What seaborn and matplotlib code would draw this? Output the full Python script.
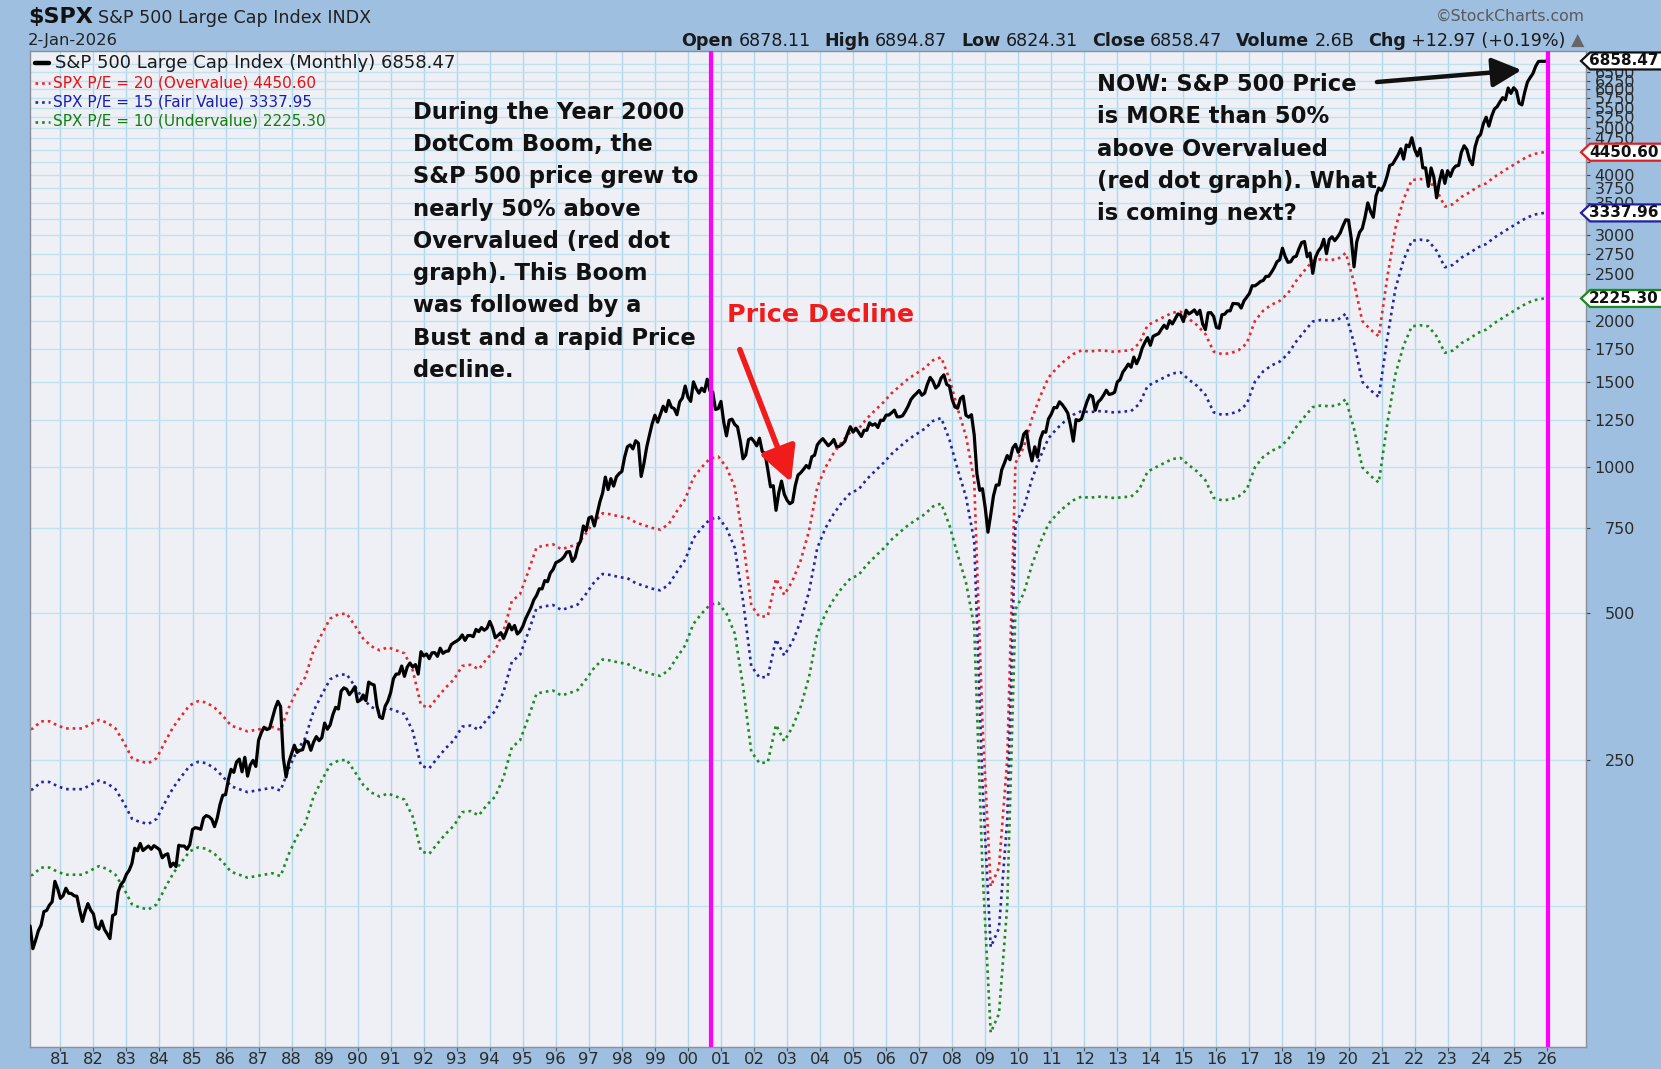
import numpy as np
import pandas as pd
import matplotlib
matplotlib.use("Agg")
import matplotlib.pyplot as plt
import seaborn as sns
from matplotlib.patches import Polygon
from matplotlib.lines import Line2D
from matplotlib.transforms import IdentityTransform
from matplotlib.ticker import FixedLocator, NullFormatter

# ---------------- data ----------------
price_1980s = [114.2, 113.7, 102.1, 106.3, 111.2, 114.2, 121.7, 122.4, 125.5, 127.5, 140.5, 135.8,
               129.6, 131.3, 136.0, 132.8, 132.6, 131.2, 130.9, 122.8, 116.2, 121.9, 126.4, 122.6,
               120.4, 113.1, 112.0, 116.4, 111.9, 109.6, 107.1, 119.5, 120.4, 133.7, 138.5, 140.6,
               145.3, 148.1, 153.0, 164.4, 162.4, 168.1, 162.6, 164.4, 166.1, 163.6, 166.4, 164.9,
               163.4, 157.1, 159.2, 160.1, 150.6, 153.2, 150.7, 166.7, 166.1, 166.1, 163.6, 167.2,
               179.6, 181.2, 180.7, 179.8, 189.6, 191.9, 190.9, 188.6, 182.1, 189.8, 202.2, 211.3,
               211.8, 226.9, 238.9, 235.5, 247.4, 250.8, 236.1, 252.9, 231.3, 244.0, 249.2, 242.2,
               274.1, 284.2, 291.7, 288.4, 290.1, 304.0, 318.7, 329.8, 321.8, 251.8, 230.3, 247.1,
               257.1, 267.8, 258.9, 261.3, 262.2, 273.5, 272.0, 261.5, 271.9, 279.0, 273.7, 277.7,
               297.5, 288.9, 294.9, 309.6, 320.5, 318.0, 346.1, 351.5, 349.2, 340.4, 346.0, 353.4]
price_1990s = [329.1, 331.9, 339.9, 330.8, 361.2, 358.0, 356.2, 322.6, 306.1, 304.0, 322.2, 330.2,
               343.9, 367.1, 375.2, 375.4, 389.8, 371.2, 387.8, 395.4, 387.9, 392.5, 375.2, 417.1,
               408.8, 412.7, 403.7, 415.0, 415.4, 408.1, 424.2, 414.0, 417.8, 418.7, 431.4, 435.7,
               438.8, 443.4, 451.7, 440.2, 450.2, 450.5, 448.1, 463.6, 458.9, 467.8, 461.8, 466.5,
               481.6, 467.1, 445.8, 450.9, 456.5, 444.3, 458.3, 475.5, 462.7, 472.4, 453.7, 459.3,
               470.4, 487.4, 500.7, 514.7, 533.4, 544.8, 562.1, 561.9, 584.4, 581.5, 605.4, 615.9,
               636.0, 640.4, 645.5, 654.2, 669.1, 670.6, 640.0, 652.0, 687.3, 705.3, 757.0, 740.7,
               786.2, 790.8, 757.1, 801.3, 848.3, 885.1, 954.3, 899.5, 947.3, 914.6, 955.4, 970.4,
               980.3, 1049.3, 1101.8, 1111.8, 1090.8, 1133.8, 1120.7, 957.3, 1017.0, 1098.7, 1163.6, 1229.2,
               1279.6, 1238.3, 1286.4, 1335.2, 1301.8, 1372.7, 1328.7, 1320.4, 1282.7, 1362.9, 1388.9, 1469.3]
price_2000s = [1394.5, 1366.4, 1498.6, 1452.4, 1420.6, 1454.6, 1430.8, 1517.7, 1436.5, 1429.4, 1315.0, 1320.3,
               1366.0, 1239.9, 1160.3, 1249.5, 1255.8, 1224.4, 1211.2, 1133.6, 1040.9, 1059.8, 1139.5, 1148.1,
               1130.2, 1106.7, 1147.4, 1076.9, 1067.1, 989.8, 911.6, 916.1, 815.3, 885.8, 936.3, 879.8,
               855.7, 841.2, 848.2, 916.9, 963.6, 974.5, 990.3, 1008.0, 996.0, 1050.7, 1058.2, 1111.9,
               1131.1, 1144.9, 1126.2, 1107.3, 1120.7, 1140.8, 1101.7, 1104.2, 1114.6, 1130.2, 1173.8, 1211.9,
               1181.3, 1203.6, 1180.6, 1156.9, 1191.5, 1191.3, 1234.2, 1220.3, 1228.8, 1207.0, 1249.5, 1248.3,
               1280.1, 1280.7, 1294.8, 1310.6, 1270.1, 1270.2, 1276.7, 1303.8, 1335.9, 1377.9, 1400.6, 1418.3,
               1438.2, 1406.8, 1420.9, 1482.4, 1530.6, 1503.4, 1455.3, 1474.0, 1526.8, 1549.4, 1481.1, 1468.4,
               1378.6, 1330.6, 1322.7, 1385.6, 1400.4, 1280.0, 1267.4, 1282.8, 1166.4, 968.8, 896.2, 903.3,
               825.9, 735.1, 797.9, 872.8, 919.1, 919.3, 987.5, 1020.6, 1057.1, 1036.2, 1095.6, 1115.1]
price_2010s = [1073.9, 1104.5, 1169.4, 1186.7, 1089.4, 1030.7, 1101.6, 1049.3, 1141.2, 1183.3, 1180.6, 1257.6,
               1286.1, 1327.2, 1325.8, 1363.6, 1345.2, 1320.6, 1292.3, 1218.9, 1131.4, 1253.3, 1247.0, 1257.6,
               1312.4, 1365.7, 1408.5, 1397.9, 1310.3, 1362.2, 1379.3, 1406.6, 1440.7, 1412.2, 1416.2, 1426.2,
               1498.1, 1514.7, 1569.2, 1597.6, 1630.7, 1606.3, 1685.7, 1633.0, 1681.6, 1756.5, 1805.8, 1848.4,
               1782.6, 1859.5, 1872.3, 1884.0, 1923.6, 1960.2, 1930.7, 2003.4, 1972.3, 2018.1, 2067.6, 2058.9,
               1995.0, 2104.5, 2067.9, 2085.5, 2107.4, 2063.1, 2103.8, 1972.2, 1920.0, 2079.4, 2080.4, 2043.9,
               1940.2, 1932.2, 2059.7, 2065.3, 2097.0, 2098.9, 2173.6, 2171.0, 2168.3, 2126.2, 2198.8, 2238.8,
               2278.9, 2363.6, 2362.7, 2384.2, 2411.8, 2423.4, 2470.3, 2471.7, 2519.4, 2575.3, 2647.6, 2673.6,
               2823.8, 2713.8, 2640.9, 2648.1, 2705.3, 2718.4, 2816.3, 2901.5, 2914.0, 2711.7, 2760.2, 2506.9,
               2704.1, 2784.5, 2834.4, 2945.8, 2752.1, 2941.8, 2980.4, 2926.5, 2976.7, 3037.6, 3141.0, 3230.8]
price_2020s = [3225.5, 2954.2, 2584.6, 2912.4, 3044.3, 3100.3, 3271.1, 3500.3, 3363.0, 3270.0, 3621.6, 3756.1,
               3714.2, 3811.2, 3972.9, 4181.2, 4204.1, 4297.5, 4395.3, 4522.7, 4307.5, 4605.4, 4567.0, 4766.2,
               4515.6, 4373.9, 4530.4, 4131.9, 4132.2, 3785.4, 4130.3, 3955.0, 3585.6, 3872.0, 4080.1, 3839.5,
               4076.6, 3970.2, 4109.3, 4169.5, 4179.8, 4450.4, 4589.0, 4507.7, 4288.1, 4193.8, 4567.8, 4769.8,
               4845.7, 5096.3, 5254.4, 5035.7, 5277.5, 5460.5, 5522.3, 5648.4, 5762.5, 5705.5, 6032.4, 5881.6,
               6040.5, 5954.5, 5611.9, 5569.1, 5911.7, 6205.0, 6339.4, 6460.3, 6688.5, 6840.2, 6849.1, 6845.5,
               6858.47]
price_start_year = 1980

# trailing EPS, quarterly, starting 1979 Q4 (ends 2025 Q4), plus latest value
eps_quarterly = [14.3,
    14.5, 15.0, 15.0, 14.7,   14.5, 14.5, 14.5, 14.8,   15.1, 14.9, 14.5, 13.6,   12.6, 12.4, 12.3, 12.6,
    13.6, 14.6, 15.4, 16.2,   16.5, 16.4, 16.0, 15.4,   14.7, 14.5, 14.3, 14.4,   14.5, 14.6, 14.4, 16.0,
    17.4, 18.5, 21.0, 22.7,   24.4, 24.9, 25.0, 23.6,   22.2, 21.4, 21.0, 21.3,   21.0, 20.7, 19.1, 16.2,
    16.0, 16.8, 17.6, 18.3,   19.5, 19.6, 19.2, 20.2,   21.0, 23.0, 26.5, 27.4,   30.5, 34.2, 34.5, 34.7,
    33.9, 34.3, 34.8, 36.6,   38.7, 40.2, 40.0, 39.6,   39.4, 38.5, 38.0, 37.5,   37.2, 38.2, 40.6, 43.0,
    47.6, 50.0, 52.1, 52.6,   50.0, 45.5, 35.5, 26.0,   24.6, 24.7, 29.5, 27.3,   29.2, 32.2, 37.0, 45.5,
    50.0, 53.5, 56.5, 59.0,   60.0, 63.0, 65.5, 68.0,   71.0, 73.5, 76.0, 78.0,   80.0, 83.0, 84.2, 76.0,
    66.0, 58.0, 47.0, 14.9,   6.86, 7.5, 12.5, 51.0,    55.0, 63.0, 70.0, 76.5,   80.0, 83.0, 85.5, 87.0,
    86.5, 87.0, 86.8, 86.4,   86.8, 87.0, 90.0, 98.0,   100.0, 102.0, 104.0, 104.5, 101.0, 98.0, 94.0, 86.5,
    85.5, 85.8, 87.0, 89.9,   100.0, 105.0, 108.0, 110.0, 114.0, 121.0, 127.0, 133.0, 134.0, 133.5, 134.0, 138.0,
    120.0, 100.0, 96.0, 93.0, 122.0, 155.0, 178.0, 195.0, 196.0, 195.0, 186.0, 172.0, 174.0, 180.0, 184.0, 189.0,
    192.0, 198.0, 203.0, 208.0, 213.0, 218.0, 221.0, 222.53]
eps_latest = 222.53
pe_levels = [20, 15, 10]
pe_names = ["SPX P/E = 20 (Overvalue) 4450.60",
            "SPX P/E = 15 (Fair Value) 3337.95",
            "SPX P/E = 10 (Undervalue) 2225.30"]
pe_colors = ["#e5272b", "#25259f", "#1f8a22"]
pe_text_colors = ["#e81010", "#1c1cb0", "#108010"]

y_ticks = list(range(250, 7000, 250))
hidden_tick_labels = [2250, 3250, 4250, 4500, 6750]   # covered by the value tags
x_years = list(range(1981, 2027))
tags = [(6858.47, "6858.47", "#111111"), (4450.60, "4450.60", "#e02020"),
        (3337.96, "3337.96", "#2020a0"), (2225.30, "2225.30", "#1a8a1a")]

# ---------------- frames ----------------
price = np.array(price_1980s + price_1990s + price_2000s + price_2010s + price_2020s)
df_price = pd.DataFrame({"t": price_start_year + np.arange(len(price)) / 12.0, "v": price})
eps = np.array(eps_quarterly + [eps_latest])
t_eps = np.append(1979 + 11 / 12 + 0.25 * np.arange(len(eps_quarterly)), 2026.0)

# ---------------- figure ----------------
sns.set_style("white")
plt.rcParams["font.family"] = ["DejaVu Sans"]
W, H = 1661, 1069
fig = plt.figure(figsize=(W / 100, H / 100), dpi=100, facecolor="#9ebfe0")
L, R, T, B = 30, 1586, 51, 1046.6
ax = fig.add_axes([L / W, (H - B) / H, (R - L) / W, (B - T) / H])
ax.set_facecolor("#efeff6")

dot_style = (0, (1, 1.5))
for lvl, col in zip(pe_levels, pe_colors):
    sns.lineplot(x=t_eps, y=eps * lvl, ax=ax, color=col, lw=1.9,
                 linestyle=dot_style, zorder=2, estimator=None, sort=False)
sns.lineplot(data=df_price, x="t", y="v", ax=ax, color="black", lw=2.3, zorder=3,
             estimator=None, sort=False)

for xm in [2000.7, 2026.05]:
    ax.axvline(xm, color="#ff00ff", lw=3.0, zorder=4)

ax.set_yscale("log")
ax.set_xlim(1980.08, 2027.19)
ax.set_ylim(64.2, 7190)
ax.set_xlabel("")
ax.set_ylabel("")

ax.yaxis.tick_right()
ax.set_yticks(y_ticks)
ax.set_yticklabels(["" if v in hidden_tick_labels else str(v) for v in y_ticks])
ax.yaxis.set_minor_locator(FixedLocator([125]))
ax.yaxis.set_minor_formatter(NullFormatter())
ax.set_xticks(x_years)
ax.set_xticklabels([f"{y % 100:02d}" for y in x_years])
ax.xaxis.set_minor_locator(FixedLocator([]))
ax.tick_params(axis="y", which="major", right=True, left=False, length=3, width=0.8,
               color="#444444", pad=32.3, labelsize=11.5, labelcolor="#2a2a2a")
for lab in ax.get_yticklabels():
    lab.set_horizontalalignment("right")
ax.tick_params(axis="y", which="minor", length=0)
ax.tick_params(axis="x", bottom=True, length=3, width=0.8, color="#555555", pad=1,
               labelsize=11.8, labelcolor="#2a2a2a")
ax.grid(True, which="both", axis="y", color="#bfe2ee", lw=1.0, zorder=0)
ax.grid(True, which="major", axis="x", color="#afd8ec", lw=1.0, zorder=0)
ax.set_axisbelow(True)
for s in ax.spines.values():
    s.set_color("#8a8f99")
    s.set_linewidth(1.0)

def fx(px):
    return px / W

def fy(py):
    return 1 - py / H

# ---------------- header ----------------
fig.text(fx(28), fy(17), "$SPX", fontsize=16, fontweight="bold", va="center", color="#111111")
fig.text(fx(98), fy(18), "S&P 500 Large Cap Index INDX", fontsize=12.6, va="center", color="#222222")
fig.text(fx(28), fy(40.5), "2-Jan-2026", fontsize=11.8, va="center", color="#222222")
fig.text(fx(1585), fy(16.5), "\u00a9StockCharts.com", fontsize=11.3, va="center", ha="right", color="#5a5a5a")

renderer = fig.canvas.get_renderer()
pieces = [("Open", True), ("6878.11", False), ("High", True), ("6894.87", False),
          ("Low", True), ("6824.31", False), ("Close", True), ("6858.47", False),
          ("Volume", True), ("2.6B", False), ("Chg", True), ("+12.97 (+0.19%)", False), ("\u25b2", False)]
xr = 1584.0
for i in range(len(pieces) - 1, -1, -1):
    txt, bold = pieces[i]
    col = "#666666" if txt == "\u25b2" else "#1a1a1a"
    tt = fig.text(fx(xr), fy(40.5), txt, fontsize=12.6, fontweight="bold" if bold else "normal",
                  ha="right", va="center", color=col)
    w = tt.get_window_extent(renderer).width
    xr -= w
    if i > 0:
        xr -= 5 if not bold else 14

# ---------------- legend ----------------
fig.add_artist(Line2D([fx(35), fx(49)], [fy(62.5), fy(62.5)], color="black", lw=3.2))
fig.text(fx(55), fy(62.5), "S&P 500 Large Cap Index (Monthly) 6858.47", fontsize=13,
         va="center", color="#1a1a1a")
for i, (nm, col, tcol) in enumerate(zip(pe_names, pe_colors, pe_text_colors)):
    yy = [82.6, 102.3, 121.5][i]
    fig.add_artist(Line2D([fx(35), fx(50)], [fy(yy), fy(yy)], color=col, lw=1.9,
                          linestyle=dot_style))
    fig.text(fx(53), fy(yy), nm, fontsize=11, va="center", color=tcol)

# ---------------- annotations ----------------
note1 = ["During the Year 2000", "DotCom Boom, the", "S&P 500 price grew to",
         "nearly 50% above", "Overvalued (red dot", "graph). This Boom",
         "was followed by a", "Bust and a rapid Price", "decline."]
for i, line in enumerate(note1):
    fig.text(fx(413), fy(112.3 + i * 32.25), line, fontsize=16.3, fontweight="bold",
             va="center", color="#111111")
note2 = ["NOW: S&P 500 Price", "is MORE than 50%", "above Overvalued",
         "(red dot graph). What", "is coming next?"]
for i, line in enumerate(note2):
    fig.text(fx(1097), fy(84.7 + i * 32.25), line, fontsize=16.3, fontweight="bold",
             va="center", color="#111111")
fig.text(fx(727), fy(314.6), "Price Decline", fontsize=18.3, fontweight="bold",
         va="center", color="#f01c1c")

ax.annotate("", xy=(2003.12, 932), xytext=(2001.57, 1746),
            arrowprops=dict(arrowstyle="-|>,head_length=1.05,head_width=0.55", color="#f01c1c",
                            lw=4.0, mutation_scale=20, shrinkA=0, shrinkB=0), zorder=6)
ax.annotate("", xy=(2025.24, 6570), xytext=(2020.86, 6207),
            arrowprops=dict(arrowstyle="-|>,head_length=0.9,head_width=0.45", color="#111111",
                            lw=3.2, mutation_scale=20, shrinkA=0, shrinkB=0), zorder=6)

# ---------------- right-hand value tags ----------------
for val, txt, ec in tags:
    _, yp = ax.transData.transform((2000.0, val))
    h = 8.5
    pts = [(1581, yp), (1590, yp + h), (1675, yp + h), (1675, yp - h), (1590, yp - h)]
    fig.add_artist(Polygon(pts, closed=True, transform=IdentityTransform(), fc="white",
                           ec=ec, lw=1.6, zorder=20))
    fig.text(1589 / W, yp / H, txt, fontsize=11, fontweight="bold", va="center",
             ha="left", color="#111111", zorder=21)

fig.savefig("out.png", dpi=100, facecolor=fig.get_facecolor())
